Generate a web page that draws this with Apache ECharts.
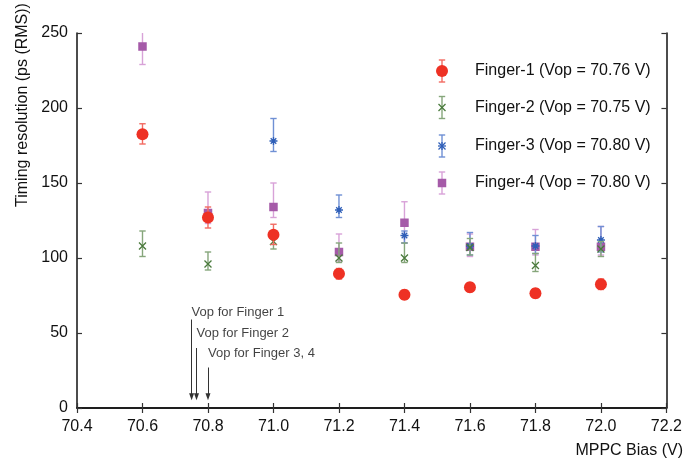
<!DOCTYPE html>
<html>
<head>
<meta charset="utf-8">
<script src="https://cdn.jsdelivr.net/npm/echarts@6/dist/echarts.min.js"></script>
<style>html,body{margin:0;padding:0;background:#fff}#c{width:685px;height:461px}</style>
</head>
<body>
<div id="c"></div>
<script>
// ---- data ----
const bias = [70.6, 70.8, 71.0, 71.2, 71.4, 71.6, 71.8, 72.0];
const f1 = [182.5, 127, 115.5, 89.5, 75.5, 80.5, 76.5, 82.5];
const f1Lo = [176, 120, 109, 86, 72.5, 77.5, 73.5, 79];
const f1Hi = [189.5, 134, 122.5, 93, 78.5, 83.5, 79.5, 86];
const f2 = [108, 96, 111, 100, 100, 107, 95, 106];
const f2Lo = [101, 92, 106, 97, 97, 102, 91, 101];
const f2Hi = [118, 104, 117, 110, 110, 113, 103, 111];
const f3 = [null, null, 178, 132, 115, 108, 108, 112];
const f3Lo = [null, null, 171, 127, 110, 102, 103, 104];
const f3Hi = [null, null, 193, 142, 118, 117, 115, 121];
const f4 = [241, 130, 134, 104, 123.5, 107.5, 107.5, 107.5];
const f4Lo = [229, 123, 127, 98, 110, 101, 102, 102];
const f4Hi = [252, 144, 150, 116, 137.5, 116, 119, 121];
const seriesNames = ['Finger-1 (Vop = 70.76 V)', 'Finger-2 (Vop = 70.75 V)', 'Finger-3 (Vop = 70.80 V)', 'Finger-4 (Vop = 70.80 V)'];
const xTicks = [70.4, 70.6, 70.8, 71.0, 71.2, 71.4, 71.6, 71.8, 72.0, 72.2];
const yTicks = [0, 50, 100, 150, 200, 250];
const vopArrowX = [70.75, 70.765, 70.80];
const vopArrowTop = [59, 40, 27];
const vopArrowEnd = 7.5;
const vopLabels = ['Vop for Finger 1', 'Vop for Finger 2', 'Vop for Finger 3, 4'];
const vopLabelY = [63.5, 50, 36.5];

// ---- styling ----
const markColors = ['#ee3124', '#4a7a3c', '#2f5fb8', '#a55aa8'];
const barColors = ['#f26b62', '#86a67b', '#6f90d4', '#d8a2d8'];
const FONT = 'Liberation Sans, Arial, Helvetica, sans-serif';
const xPath = 'path://M0,0L10,10M10,0L0,10';
const starPath = 'path://M5,0L5,10M0,5L10,5M1.5,1.5L8.5,8.5M8.5,1.5L1.5,8.5';

function triples(xs, lo, hi) {
  const out = [];
  xs.forEach((x, i) => { if (lo[i] != null) out.push([x, lo[i], hi[i]]); });
  return out;
}
function pts(xs, ys) {
  const out = [];
  xs.forEach((x, i) => { if (ys[i] != null) out.push([x, ys[i]]); });
  return out;
}
function errSeries(idx, data, z) {
  return {
    type: 'custom', name: 'err' + idx, z: z, clip: true, silent: true,
    data: data,
    renderItem: function (params, api) {
      const x = api.value(0), lo = api.value(1), hi = api.value(2);
      const a = api.coord([x, lo]), b = api.coord([x, hi]);
      const w = 3.2;
      const st = { stroke: barColors[idx], lineWidth: 1.4 };
      return {
        type: 'group', children: [
          { type: 'line', shape: { x1: a[0], y1: a[1], x2: b[0], y2: b[1] }, style: st },
          { type: 'line', shape: { x1: a[0] - w, y1: a[1], x2: a[0] + w, y2: a[1] }, style: st },
          { type: 'line', shape: { x1: b[0] - w, y1: b[1], x2: b[0] + w, y2: b[1] }, style: st }
        ]
      };
    }
  };
}
const symbols = ['circle', xPath, starPath, 'rect'];
const sizes = [12, 7, 8, 8.5];
function markSeries(idx, data, z) {
  const line = idx === 1 || idx === 2;
  return {
    type: 'scatter', name: seriesNames[idx], z: z, data: data,
    symbol: symbols[idx], symbolSize: sizes[idx], silent: true,
    itemStyle: line ? { color: markColors[idx], borderColor: markColors[idx], borderWidth: 1.3, opacity: 1 } : { color: markColors[idx], opacity: 1 }
  };
}

const allSeries = [];
const order = [3, 2, 1, 0];
const errData = [triples(bias, f1Lo, f1Hi), triples(bias, f2Lo, f2Hi), triples(bias, f3Lo, f3Hi), triples(bias, f4Lo, f4Hi)];
const ptData = [pts(bias, f1), pts(bias, f2), pts(bias, f3), pts(bias, f4)];
order.forEach((idx, k) => {
  allSeries.push(errSeries(idx, errData[idx], 2 + k * 2));
  allSeries.push(markSeries(idx, ptData[idx], 3 + k * 2));
});
// Vop arrows
allSeries.push({
  type: 'scatter', name: 'vop', z: 20, silent: true,
  symbolSize: 0,
  data: vopLabels.map((t, i) => [vopArrowX[i], vopLabelY[i], t]),
  label: { show: true, position: 'right', distance: 0, formatter: p => p.value[2], fontFamily: FONT, fontSize: 13, color: '#111' },
  markLine: {
    silent: true, symbol: ['none', 'triangle'], symbolSize: [5, 7],
    lineStyle: { color: '#333', width: 1, type: 'solid' },
    label: { show: false },
    data: vopArrowX.map((x, i) => [{ coord: [x, vopArrowTop[i]] }, { coord: [x, vopArrowEnd] }])
  }
});

// legend drawn as graphic
const legX = 442, legTextX = 475, legY = [71, 107.5, 146, 183];
const legendEls = [];
seriesNames.forEach((n, i) => {
  const y = legY[i];
  const st = { stroke: barColors[i], lineWidth: 1.4 };
  legendEls.push({ type: 'line', shape: { x1: legX, y1: y - 11, x2: legX, y2: y + 11 }, style: st });
  legendEls.push({ type: 'line', shape: { x1: legX - 3.2, y1: y - 11, x2: legX + 3.2, y2: y - 11 }, style: st });
  legendEls.push({ type: 'line', shape: { x1: legX - 3.2, y1: y + 11, x2: legX + 3.2, y2: y + 11 }, style: st });
  const ms = { stroke: markColors[i], lineWidth: 1.3 };
  if (i === 0) legendEls.push({ type: 'circle', shape: { cx: legX, cy: y, r: 6 }, style: { fill: markColors[0] } });
  if (i === 1 || i === 2) {
    const r = 3.5;
    legendEls.push({ type: 'line', shape: { x1: legX - r, y1: y - r, x2: legX + r, y2: y + r }, style: ms });
    legendEls.push({ type: 'line', shape: { x1: legX + r, y1: y - r, x2: legX - r, y2: y + r }, style: ms });
    if (i === 2) {
      legendEls.push({ type: 'line', shape: { x1: legX, y1: y - 4, x2: legX, y2: y + 4 }, style: ms });
      legendEls.push({ type: 'line', shape: { x1: legX - 4, y1: y, x2: legX + 4, y2: y }, style: ms });
    }
  }
  if (i === 3) legendEls.push({ type: 'rect', shape: { x: legX - 4.25, y: y - 4.25, width: 8.5, height: 8.5 }, style: { fill: markColors[3] } });
  legendEls.push({ type: 'text', x: legTextX, y: y, style: { text: n, font: '16px ' + FONT, fill: '#111', textVerticalAlign: 'middle', verticalAlign: 'middle' } });
});
legendEls.push({ type: 'text', x: 683, y: 451, style: { text: 'MPPC Bias (V)', font: '16px ' + FONT, fill: '#111', align: 'right', textAlign: 'right', verticalAlign: 'middle', textVerticalAlign: 'middle' } });
legendEls.push({ type: 'text', x: 23, y: 105, rotation: Math.PI / 2, style: { text: 'Timing resolution (ps (RMS))', font: '16px ' + FONT, fill: '#111', align: 'center', textAlign: 'center', verticalAlign: 'middle', textVerticalAlign: 'middle' } });

const axisLine = { show: true, lineStyle: { color: '#111', width: 1.5 } };
const tick = { show: true, inside: true, length: 5, lineStyle: { color: '#333', width: 1.2 } };
const xBase = { type: 'value', min: xTicks[0], max: xTicks[xTicks.length - 1], interval: 0.2, splitLine: { show: false }, axisLine: axisLine, axisTick: tick };
const yBase = { type: 'value', min: yTicks[0], max: yTicks[yTicks.length - 1], interval: 50, splitLine: { show: false }, axisLine: axisLine, axisTick: tick };

const chart = echarts.init(document.getElementById('c'), null, { renderer: 'canvas' });
chart.setOption({
  animation: false,
  backgroundColor: '#fff',
  grid: { left: 77, right: 17, top: 33, bottom: 53 },
  xAxis: [
    Object.assign({}, xBase, { position: 'bottom', axisLabel: { fontFamily: FONT, fontSize: 16, color: '#111', margin: 11, formatter: v => v.toFixed(1) } }),
    Object.assign({}, xBase, { position: 'top', axisLabel: { show: false } })
  ],
  yAxis: [
    Object.assign({}, yBase, { position: 'left', axisLabel: { fontFamily: FONT, fontSize: 16, color: '#111', margin: 9 } }),
    Object.assign({}, yBase, { position: 'right', axisLabel: { show: false } })
  ],
  graphic: legendEls,
  series: allSeries
});
</script>
</body>
</html>
